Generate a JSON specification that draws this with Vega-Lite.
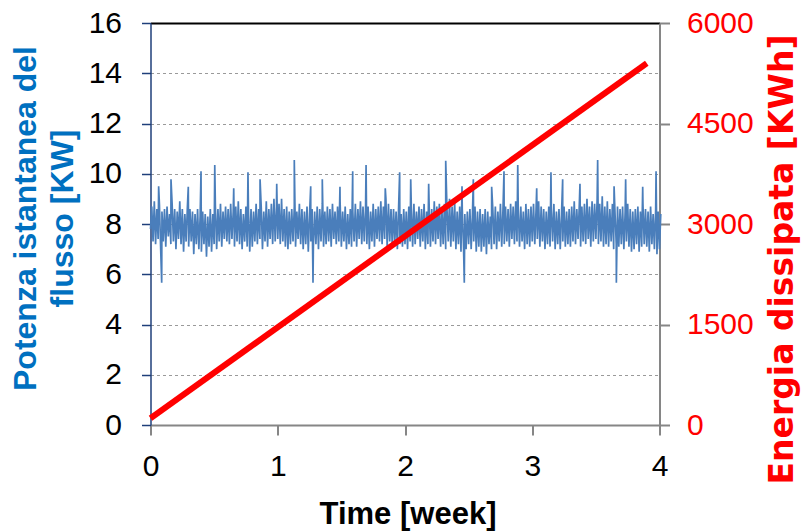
{
  "$schema": "https://vega.github.io/schema/vega-lite/v6.json",
  "width": 509,
  "height": 402,
  "autosize": "none",
  "padding": {"left": 150.5, "top": 23, "right": 141.5, "bottom": 106},
  "background": "white",
  "config": {
    "view": {"stroke": null},
    "axis": {"labelFont": "Liberation Sans", "titleFont": "Liberation Sans", "labelFontSize": 30, "labelColor": "black", "labelOverlap": false}
  },
  "datasets": {
    "flow": [
      {"w":0.00,"kw":7.8},{"w":0.01,"kw":8.7},{"w":0.02,"kw":7.3},{"w":0.03,"kw":8.9},{"w":0.04,"kw":7.2},{"w":0.05,"kw":8.6},{"w":0.06,"kw":7.4},{"w":0.07,"kw":8.8},{"w":0.08,"kw":7.0},{"w":0.09,"kw":8.5},
      {"w":0.10,"kw":7.3},{"w":0.11,"kw":8.6},{"w":0.12,"kw":7.1},{"w":0.13,"kw":8.7},{"w":0.14,"kw":7.5},{"w":0.15,"kw":8.4},{"w":0.16,"kw":7.2},{"w":0.17,"kw":8.8},{"w":0.18,"kw":7.3},{"w":0.19,"kw":8.6},
      {"w":0.20,"kw":7.0},{"w":0.21,"kw":8.5},{"w":0.22,"kw":7.4},{"w":0.23,"kw":8.9},{"w":0.24,"kw":7.2},{"w":0.25,"kw":8.6},{"w":0.26,"kw":6.9},{"w":0.27,"kw":8.4},{"w":0.28,"kw":7.3},{"w":0.29,"kw":8.7},
      {"w":0.30,"kw":7.1},{"w":0.31,"kw":8.6},{"w":0.32,"kw":7.3},{"w":0.33,"kw":8.5},{"w":0.34,"kw":6.8},{"w":0.35,"kw":8.4},{"w":0.36,"kw":7.2},{"w":0.37,"kw":8.6},{"w":0.38,"kw":7.0},{"w":0.39,"kw":8.3},
      {"w":0.40,"kw":6.9},{"w":0.41,"kw":8.5},{"w":0.42,"kw":7.2},{"w":0.43,"kw":8.4},{"w":0.44,"kw":6.7},{"w":0.45,"kw":8.3},{"w":0.46,"kw":7.1},{"w":0.47,"kw":8.6},{"w":0.48,"kw":6.9},{"w":0.49,"kw":8.4},
      {"w":0.50,"kw":7.2},{"w":0.51,"kw":8.7},{"w":0.52,"kw":7.0},{"w":0.53,"kw":8.6},{"w":0.54,"kw":7.3},{"w":0.55,"kw":8.8},{"w":0.56,"kw":7.1},{"w":0.57,"kw":8.5},{"w":0.58,"kw":7.4},{"w":0.59,"kw":8.7},
      {"w":0.60,"kw":7.3},{"w":0.61,"kw":8.6},{"w":0.62,"kw":7.2},{"w":0.63,"kw":8.8},{"w":0.64,"kw":7.4},{"w":0.65,"kw":8.5},{"w":0.66,"kw":7.1},{"w":0.67,"kw":8.7},{"w":0.68,"kw":7.3},{"w":0.69,"kw":8.9},
      {"w":0.70,"kw":7.2},{"w":0.71,"kw":8.6},{"w":0.72,"kw":7.0},{"w":0.73,"kw":8.4},{"w":0.74,"kw":7.3},{"w":0.75,"kw":8.7},{"w":0.76,"kw":7.1},{"w":0.77,"kw":8.5},{"w":0.78,"kw":6.9},{"w":0.79,"kw":8.6},
      {"w":0.80,"kw":7.1},{"w":0.81,"kw":8.5},{"w":0.82,"kw":7.3},{"w":0.83,"kw":8.8},{"w":0.84,"kw":7.2},{"w":0.85,"kw":8.6},{"w":0.86,"kw":7.4},{"w":0.87,"kw":8.7},{"w":0.88,"kw":7.0},{"w":0.89,"kw":8.5},
      {"w":0.90,"kw":7.3},{"w":0.91,"kw":8.9},{"w":0.92,"kw":7.1},{"w":0.93,"kw":8.6},{"w":0.94,"kw":7.4},{"w":0.95,"kw":8.8},{"w":0.96,"kw":7.2},{"w":0.97,"kw":9.0},{"w":0.98,"kw":7.3},{"w":0.99,"kw":8.7},
      {"w":1.00,"kw":7.4},{"w":1.01,"kw":8.8},{"w":1.02,"kw":7.2},{"w":1.03,"kw":9.0},{"w":1.04,"kw":7.3},{"w":1.05,"kw":8.6},{"w":1.06,"kw":7.1},{"w":1.07,"kw":8.7},{"w":1.08,"kw":7.0},{"w":1.09,"kw":8.5},
      {"w":1.10,"kw":7.2},{"w":1.11,"kw":8.6},{"w":1.12,"kw":7.3},{"w":1.13,"kw":8.7},{"w":1.14,"kw":7.1},{"w":1.15,"kw":8.5},{"w":1.16,"kw":7.4},{"w":1.17,"kw":8.8},{"w":1.18,"kw":7.2},{"w":1.19,"kw":8.6},
      {"w":1.20,"kw":7.0},{"w":1.21,"kw":8.5},{"w":1.22,"kw":7.2},{"w":1.23,"kw":8.7},{"w":1.24,"kw":6.9},{"w":1.25,"kw":8.4},{"w":1.26,"kw":7.3},{"w":1.27,"kw":8.6},{"w":1.28,"kw":7.1},{"w":1.29,"kw":8.5},
      {"w":1.30,"kw":7.2},{"w":1.31,"kw":8.7},{"w":1.32,"kw":7.0},{"w":1.33,"kw":8.6},{"w":1.34,"kw":7.3},{"w":1.35,"kw":8.8},{"w":1.36,"kw":7.1},{"w":1.37,"kw":8.5},{"w":1.38,"kw":7.2},{"w":1.39,"kw":8.7},
      {"w":1.40,"kw":7.3},{"w":1.41,"kw":8.6},{"w":1.42,"kw":7.1},{"w":1.43,"kw":8.8},{"w":1.44,"kw":7.4},{"w":1.45,"kw":8.5},{"w":1.46,"kw":7.2},{"w":1.47,"kw":8.7},{"w":1.48,"kw":7.3},{"w":1.49,"kw":8.9},
      {"w":1.50,"kw":7.1},{"w":1.51,"kw":8.5},{"w":1.52,"kw":7.3},{"w":1.53,"kw":8.7},{"w":1.54,"kw":7.0},{"w":1.55,"kw":8.4},{"w":1.56,"kw":7.2},{"w":1.57,"kw":8.6},{"w":1.58,"kw":7.1},{"w":1.59,"kw":8.5},
      {"w":1.60,"kw":7.3},{"w":1.61,"kw":8.8},{"w":1.62,"kw":7.1},{"w":1.63,"kw":8.6},{"w":1.64,"kw":7.4},{"w":1.65,"kw":8.9},{"w":1.66,"kw":7.2},{"w":1.67,"kw":8.7},{"w":1.68,"kw":7.3},{"w":1.69,"kw":8.6},
      {"w":1.70,"kw":7.2},{"w":1.71,"kw":8.7},{"w":1.72,"kw":7.0},{"w":1.73,"kw":8.5},{"w":1.74,"kw":7.3},{"w":1.75,"kw":8.8},{"w":1.76,"kw":7.1},{"w":1.77,"kw":8.6},{"w":1.78,"kw":7.4},{"w":1.79,"kw":8.7},
      {"w":1.80,"kw":7.3},{"w":1.81,"kw":8.9},{"w":1.82,"kw":7.2},{"w":1.83,"kw":8.7},{"w":1.84,"kw":7.4},{"w":1.85,"kw":9.0},{"w":1.86,"kw":7.1},{"w":1.87,"kw":8.8},{"w":1.88,"kw":7.3},{"w":1.89,"kw":8.6},
      {"w":1.90,"kw":7.1},{"w":1.91,"kw":8.6},{"w":1.92,"kw":7.3},{"w":1.93,"kw":8.5},{"w":1.94,"kw":7.0},{"w":1.95,"kw":8.7},{"w":1.96,"kw":7.2},{"w":1.97,"kw":8.4},{"w":1.98,"kw":7.1},{"w":1.99,"kw":8.6},
      {"w":2.00,"kw":7.2},{"w":2.01,"kw":8.5},{"w":2.02,"kw":7.0},{"w":2.03,"kw":8.7},{"w":2.04,"kw":7.3},{"w":2.05,"kw":8.6},{"w":2.06,"kw":7.1},{"w":2.07,"kw":8.8},{"w":2.08,"kw":7.2},{"w":2.09,"kw":8.5},
      {"w":2.10,"kw":7.4},{"w":2.11,"kw":8.7},{"w":2.12,"kw":7.1},{"w":2.13,"kw":8.6},{"w":2.14,"kw":7.3},{"w":2.15,"kw":8.8},{"w":2.16,"kw":7.0},{"w":2.17,"kw":8.5},{"w":2.18,"kw":7.2},{"w":2.19,"kw":8.7},
      {"w":2.20,"kw":7.1},{"w":2.21,"kw":8.6},{"w":2.22,"kw":7.3},{"w":2.23,"kw":8.9},{"w":2.24,"kw":7.2},{"w":2.25,"kw":8.7},{"w":2.26,"kw":7.4},{"w":2.27,"kw":8.8},{"w":2.28,"kw":7.1},{"w":2.29,"kw":8.6},
      {"w":2.30,"kw":7.2},{"w":2.31,"kw":8.8},{"w":2.32,"kw":7.0},{"w":2.33,"kw":8.6},{"w":2.34,"kw":7.3},{"w":2.35,"kw":9.0},{"w":2.36,"kw":7.1},{"w":2.37,"kw":8.7},{"w":2.38,"kw":7.3},{"w":2.39,"kw":8.9},
      {"w":2.40,"kw":7.0},{"w":2.41,"kw":8.5},{"w":2.42,"kw":7.2},{"w":2.43,"kw":8.7},{"w":2.44,"kw":6.9},{"w":2.45,"kw":8.6},{"w":2.46,"kw":7.1},{"w":2.47,"kw":8.4},{"w":2.48,"kw":7.0},{"w":2.49,"kw":8.5},
      {"w":2.50,"kw":7.2},{"w":2.51,"kw":8.6},{"w":2.52,"kw":7.0},{"w":2.53,"kw":8.4},{"w":2.54,"kw":7.3},{"w":2.55,"kw":8.7},{"w":2.56,"kw":6.9},{"w":2.57,"kw":8.5},{"w":2.58,"kw":7.1},{"w":2.59,"kw":8.6},
      {"w":2.60,"kw":6.9},{"w":2.61,"kw":8.4},{"w":2.62,"kw":7.1},{"w":2.63,"kw":8.6},{"w":2.64,"kw":6.8},{"w":2.65,"kw":8.5},{"w":2.66,"kw":7.2},{"w":2.67,"kw":8.3},{"w":2.68,"kw":7.0},{"w":2.69,"kw":8.6},
      {"w":2.70,"kw":7.2},{"w":2.71,"kw":8.7},{"w":2.72,"kw":7.0},{"w":2.73,"kw":8.5},{"w":2.74,"kw":7.3},{"w":2.75,"kw":8.8},{"w":2.76,"kw":7.1},{"w":2.77,"kw":8.6},{"w":2.78,"kw":7.2},{"w":2.79,"kw":8.7},
      {"w":2.80,"kw":7.3},{"w":2.81,"kw":8.6},{"w":2.82,"kw":7.1},{"w":2.83,"kw":8.8},{"w":2.84,"kw":7.4},{"w":2.85,"kw":8.7},{"w":2.86,"kw":7.2},{"w":2.87,"kw":8.9},{"w":2.88,"kw":7.3},{"w":2.89,"kw":8.6},
      {"w":2.90,"kw":7.1},{"w":2.91,"kw":8.7},{"w":2.92,"kw":7.3},{"w":2.93,"kw":8.5},{"w":2.94,"kw":7.0},{"w":2.95,"kw":8.8},{"w":2.96,"kw":7.2},{"w":2.97,"kw":8.6},{"w":2.98,"kw":7.1},{"w":2.99,"kw":8.7},
      {"w":3.00,"kw":7.3},{"w":3.01,"kw":8.8},{"w":3.02,"kw":7.2},{"w":3.03,"kw":8.6},{"w":3.04,"kw":7.4},{"w":3.05,"kw":8.9},{"w":3.06,"kw":7.1},{"w":3.07,"kw":8.7},{"w":3.08,"kw":7.3},{"w":3.09,"kw":8.6},
      {"w":3.10,"kw":7.0},{"w":3.11,"kw":8.5},{"w":3.12,"kw":7.2},{"w":3.13,"kw":8.7},{"w":3.14,"kw":7.1},{"w":3.15,"kw":8.6},{"w":3.16,"kw":7.3},{"w":3.17,"kw":8.8},{"w":3.18,"kw":7.0},{"w":3.19,"kw":8.5},
      {"w":3.20,"kw":7.2},{"w":3.21,"kw":8.6},{"w":3.22,"kw":7.0},{"w":3.23,"kw":8.4},{"w":3.24,"kw":7.3},{"w":3.25,"kw":8.7},{"w":3.26,"kw":7.1},{"w":3.27,"kw":8.5},{"w":3.28,"kw":7.2},{"w":3.29,"kw":8.6},
      {"w":3.30,"kw":7.1},{"w":3.31,"kw":8.7},{"w":3.32,"kw":7.3},{"w":3.33,"kw":8.9},{"w":3.34,"kw":7.2},{"w":3.35,"kw":8.6},{"w":3.36,"kw":7.4},{"w":3.37,"kw":8.8},{"w":3.38,"kw":7.1},{"w":3.39,"kw":8.7},
      {"w":3.40,"kw":7.3},{"w":3.41,"kw":8.8},{"w":3.42,"kw":7.2},{"w":3.43,"kw":9.0},{"w":3.44,"kw":7.4},{"w":3.45,"kw":8.7},{"w":3.46,"kw":7.1},{"w":3.47,"kw":8.9},{"w":3.48,"kw":7.3},{"w":3.49,"kw":8.8},
      {"w":3.50,"kw":7.4},{"w":3.51,"kw":9.0},{"w":3.52,"kw":7.2},{"w":3.53,"kw":8.8},{"w":3.54,"kw":7.3},{"w":3.55,"kw":9.1},{"w":3.56,"kw":7.1},{"w":3.57,"kw":8.7},{"w":3.58,"kw":7.2},{"w":3.59,"kw":8.9},
      {"w":3.60,"kw":7.1},{"w":3.61,"kw":8.6},{"w":3.62,"kw":7.3},{"w":3.63,"kw":8.8},{"w":3.64,"kw":7.0},{"w":3.65,"kw":8.5},{"w":3.66,"kw":7.2},{"w":3.67,"kw":8.7},{"w":3.68,"kw":7.1},{"w":3.69,"kw":8.6},
      {"w":3.70,"kw":7.2},{"w":3.71,"kw":8.7},{"w":3.72,"kw":7.0},{"w":3.73,"kw":8.5},{"w":3.74,"kw":7.3},{"w":3.75,"kw":8.8},{"w":3.76,"kw":7.1},{"w":3.77,"kw":8.6},{"w":3.78,"kw":6.9},{"w":3.79,"kw":8.5},
      {"w":3.80,"kw":7.0},{"w":3.81,"kw":8.6},{"w":3.82,"kw":7.2},{"w":3.83,"kw":8.7},{"w":3.84,"kw":6.9},{"w":3.85,"kw":8.5},{"w":3.86,"kw":7.1},{"w":3.87,"kw":8.8},{"w":3.88,"kw":7.2},{"w":3.89,"kw":8.6},
      {"w":3.90,"kw":7.1},{"w":3.91,"kw":8.5},{"w":3.92,"kw":6.9},{"w":3.93,"kw":8.7},{"w":3.94,"kw":7.2},{"w":3.95,"kw":8.4},{"w":3.96,"kw":7.0},{"w":3.97,"kw":8.6},{"w":3.98,"kw":6.8},{"w":3.99,"kw":8.5},
      {"w":4.00,"kw":7.0},{"w":4.01,"kw":8.4},
      {"w":0.064,"kw":9.5},{"w":0.088,"kw":5.66},{"w":0.161,"kw":9.78},{"w":0.297,"kw":9.48},{"w":0.397,"kw":10.1},{"w":0.505,"kw":10.35},{"w":0.654,"kw":9.42},{"w":0.766,"kw":10.06},{"w":0.861,"kw":9.78},{"w":0.992,"kw":9.6},
      {"w":1.13,"kw":10.55},{"w":1.259,"kw":9.5},{"w":1.277,"kw":5.66},{"w":1.35,"kw":9.78},{"w":1.489,"kw":9.48},{"w":1.589,"kw":10.1},{"w":1.694,"kw":10.35},{"w":1.845,"kw":9.42},{"w":1.958,"kw":10.06},{"w":2.045,"kw":9.78},
      {"w":2.186,"kw":9.6},{"w":2.32,"kw":10.52},{"w":2.448,"kw":9.5},{"w":2.466,"kw":5.66},{"w":2.537,"kw":9.78},{"w":2.681,"kw":9.48},{"w":2.778,"kw":10.1},{"w":2.886,"kw":10.35},{"w":3.035,"kw":9.42},{"w":3.147,"kw":10.06},
      {"w":3.239,"kw":9.78},{"w":3.375,"kw":9.6},{"w":3.514,"kw":10.55},{"w":3.643,"kw":9.5},{"w":3.661,"kw":5.66},{"w":3.734,"kw":9.78},{"w":3.868,"kw":9.48},{"w":3.973,"kw":10.1}
    ],
    "energy": [
      {"w":0,"e":100},
      {"w":3.9,"e":5400}
    ]
  },
  "encoding": {
    "x": {
      "field": "w",
      "type": "quantitative",
      "scale": {"domain": [0, 4], "nice": false, "zero": false},
      "axis": {
        "values": [0, 1, 2, 3, 4],
        "domainColor": "#868686",
        "domainWidth": 2,
        "tickColor": "#868686",
        "tickWidth": 2,
        "tickSize": 10,
        "labelPadding": 16,
        "labelFlush": false,
        "grid": false,
        "title": "Time [week]",
        "titleFontSize": 31,
        "titleFontWeight": "bold",
        "titleColor": "black",
        "titleAlign": "center",
        "titleBaseline": "alphabetic",
        "titleX": 257,
        "titleY": 98
      }
    }
  },
  "layer": [
    {
      "data": {"name": "flow"},
      "mark": {"type": "line", "color": "#4a7ebb", "strokeWidth": 1.7, "clip": false},
      "encoding": {
        "y": {
          "field": "kw",
          "type": "quantitative",
          "scale": {"domain": [0, 16], "nice": false},
          "axis": {
            "orient": "left",
            "values": [0, 2, 4, 6, 8, 10, 12, 14, 16],
            "domainColor": "#1f3f7a",
            "domainWidth": 1.5,
            "tickColor": "#1f3f7a",
            "tickWidth": 1.5,
            "tickSize": 9,
            "labelPadding": 20,
            "grid": true,
            "gridColor": {"condition": {"test": "datum.value === 16", "value": "#000000"}, "value": "#9a9a9a"},
            "gridDash": {"condition": {"test": "datum.value === 16", "value": []}, "value": [3, 3]},
            "gridWidth": {"condition": {"test": "datum.value === 16", "value": 2}, "value": 1},
            "title": ["Potenza istantanea  del", "flusso [KW]"],
            "titleColor": "#0070c0",
            "titleFontSize": 32,
            "titleFontWeight": "bold",
            "titleLineHeight": 37,
            "titleAngle": -90,
            "titleAlign": "center",
            "titleBaseline": "alphabetic",
            "titleX": -115,
            "titleY": 195
          }
        }
      }
    },
    {
      "data": {"name": "energy"},
      "mark": {"type": "line", "color": "#ff0000", "strokeWidth": 6, "strokeCap": "butt"},
      "encoding": {
        "y": {
          "field": "e",
          "type": "quantitative",
          "scale": {"domain": [0, 6000], "nice": false},
          "axis": {
            "orient": "right",
            "values": [0, 1500, 3000, 4500, 6000],
            "format": "d",
            "domainColor": "#868686",
            "domainWidth": 2,
            "tickColor": "#868686",
            "tickWidth": 2,
            "tickSize": 10,
            "labelColor": "#ff0000",
            "labelPadding": 17,
            "grid": false,
            "title": "Energia dissipata [KWh]",
            "titleColor": "#ff0000",
            "titleFont": "DejaVu Sans",
            "titleFontSize": 33,
            "titleFontWeight": "bold",
            "titleAngle": -90,
            "titleAlign": "center",
            "titleBaseline": "alphabetic",
            "titleX": 133,
            "titleY": 236
          }
        }
      }
    }
  ],
  "resolve": {"scale": {"y": "independent"}}
}
